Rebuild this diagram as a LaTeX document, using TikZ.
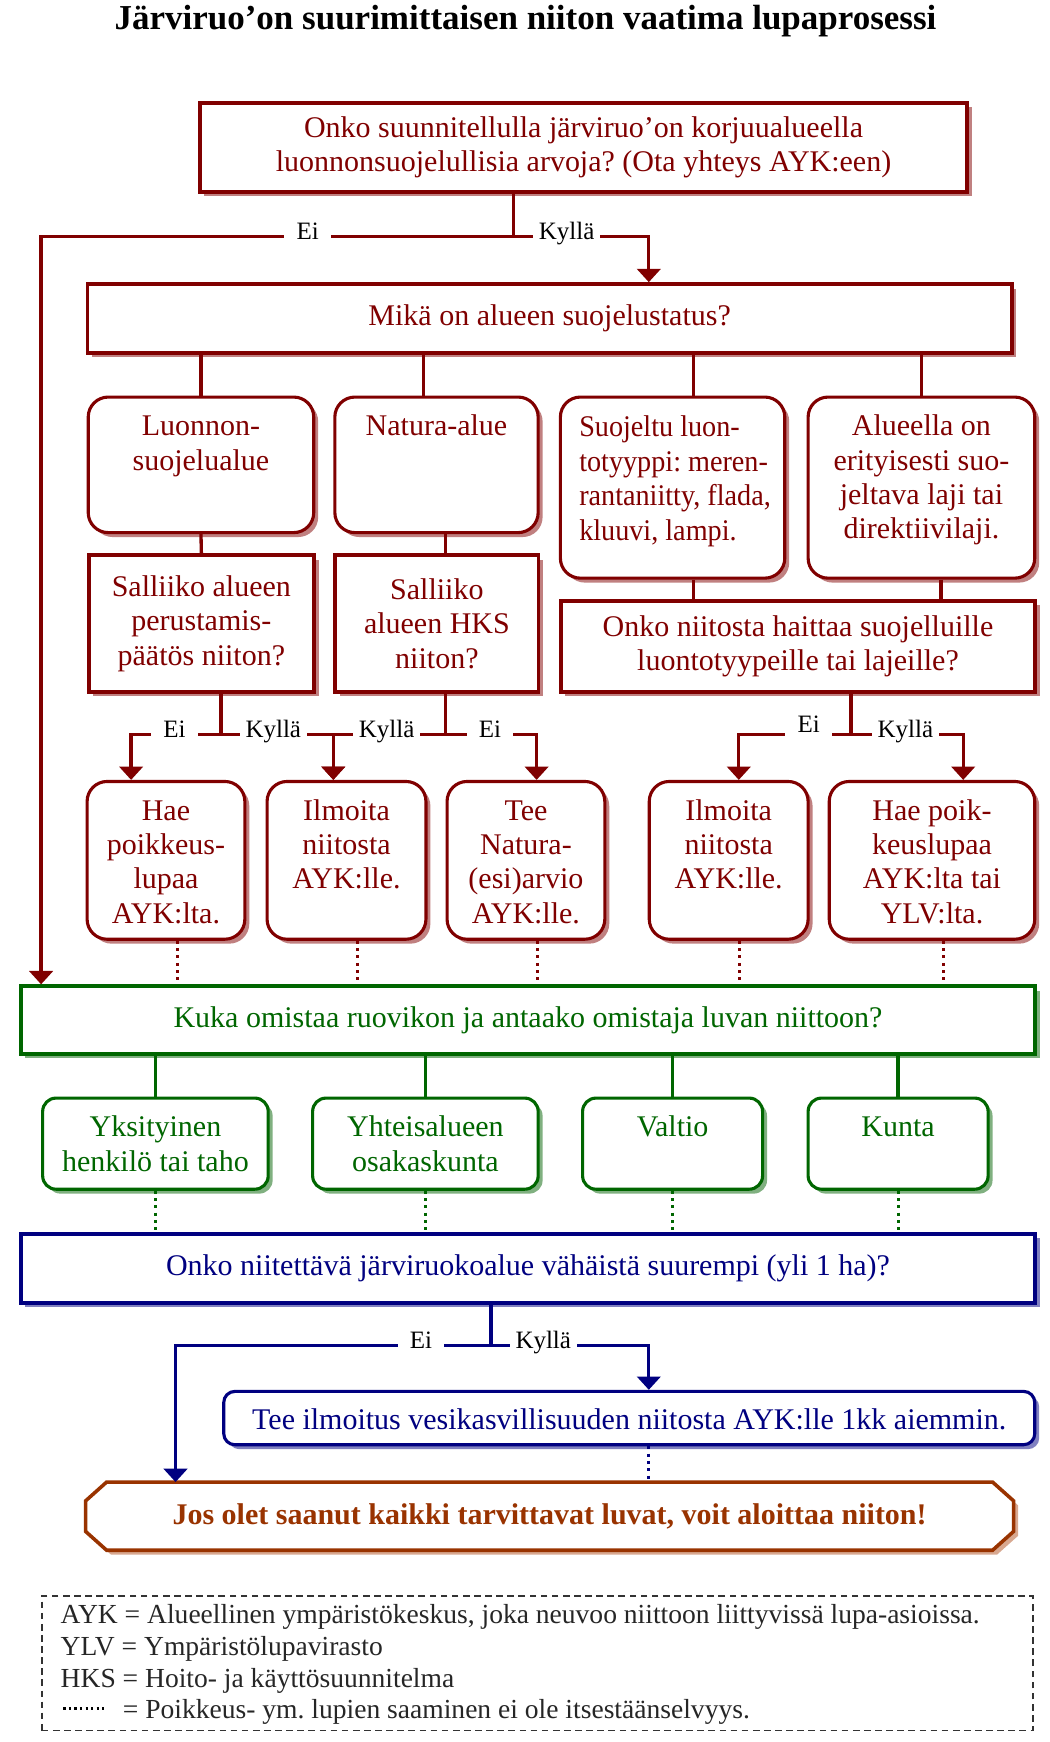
\documentclass[tikz,border=0pt]{standalone}
\usepackage{fontspec}
\setmainfont{Liberation Serif}
\usetikzlibrary{arrows.meta,shadows,backgrounds}
\frenchspacing

\definecolor{viini}{HTML}{800000}
\definecolor{viinivarjo}{HTML}{C08080}
\definecolor{metsa}{HTML}{006600}
\definecolor{metsavarjo}{HTML}{80B080}
\definecolor{laivasto}{HTML}{000080}
\definecolor{laivastovarjo}{HTML}{8080C0}
\definecolor{ruoste}{HTML}{993300}
\definecolor{ruostevarjo}{HTML}{D8A890}

\newcommand{\laatikko}{\fontsize{27pt}{31pt}\selectfont}
\newcommand{\vastausfontti}{\fontsize{22.5pt}{26pt}\selectfont}
\newcommand{\selitefontti}{\fontsize{24.8pt}{28.5pt}\selectfont}
% teksti laatikon ylälaitaan
\newcommand{\ylos}[3]{\parbox[c][#2][t]{#1}{\centering\vspace*{13pt}\strut#3}}

\tikzset{
  varjo/.style={drop shadow={shadow xshift=4pt,shadow yshift=-4pt,opacity=1,fill=#1}},
  kysymys/.style={draw=#1,text=#1,fill=white,line width=3.5pt,align=center,
    anchor=north west,inner sep=0pt,font=\laatikko,varjo=#1varjo},
  vaihe/.style={draw=#1,text=#1,fill=white,line width=2.8pt,rounded corners=18pt,
    anchor=north west,inner sep=0pt,font=\laatikko,varjo=#1varjo},
  viiva/.style={draw=#1,line width=3pt},
  nuoli/.style={viiva=#1,-{Triangle[width=21pt,length=12pt]}},
  pisteet/.style={draw=#1,line width=2.7pt,dash pattern=on 2.7pt off 3.9pt},
  vastaus/.style={fill=white,text=black,font=\vastausfontti,inner xsep=5pt,
    inner ysep=0pt,text height=15pt,text depth=5pt,minimum width=42pt},
}

\begin{document}
\begin{tikzpicture}[x=1pt,y=-1pt]
\useasboundingbox (0,0) rectangle (945,1568);

% otsikko
\node[anchor=base,font=\fontsize{31.5pt}{36pt}\selectfont\bfseries] (otsikko) at (473,27) {Järviruo’on suurimittaisen niiton vaatima lupaprosessi};

% suojeluarvot
\node[kysymys=viini,minimum width=691pt,minimum height=80pt] (alku) at (178,91) {Onko suunnitellulla järviruo’on korjuualueella\\luonnonsuojelullisia arvoja? (Ota yhteys AYK:een)};
\node[kysymys=viini,minimum width=832pt,minimum height=62pt] (tila) at (77,254) {Mikä on alueen suojelustatus?};

\node[vaihe=viini] (luonto) at (78,356) {\ylos{203pt}{122pt}{Luonnon-\\suojelualue}};
\node[vaihe=viini] (natura) at (300,356) {\ylos{183pt}{122pt}{Natura-alue}};
\node[vaihe=viini] (tyyppi) at (503,356) {\parbox[c][163pt][t]{202pt}{\addfontfeature{FakeStretch=0.94}\raggedright\leftskip=17pt\rightskip=-12pt plus 1fil\vspace*{14pt}\strut Suojeltu luon-\\totyyppi: meren-\\rantaniitty, flada,\\kluuvi, lampi.}};
\node[vaihe=viini] (laji) at (726,356) {\ylos{204pt}{163pt}{Alueella on\\erityisesti suo-\\jeltava laji tai\\direktiivilaji.}};

\node[kysymys=viini,minimum width=203pt,minimum height=123pt] (perust) at (78,498) {Salliiko alueen\\perustamis-\\päätös niiton?};
\node[kysymys=viini,minimum width=183pt,minimum height=123pt] (hks) at (300,498) {Salliiko\\alueen HKS\\niiton?};
\node[kysymys=viini,minimum width=427pt,minimum height=82pt] (haitta) at (503,539) {Onko niitosta haittaa suojelluille\\luontotyypeille tai lajeille?};

\node[vaihe=viini] (hae1) at (77,702) {\ylos{142pt}{142pt}{Hae\\poikkeus-\\lupaa\\AYK:lta.}};
\node[vaihe=viini] (ilm1) at (239,702) {\ylos{143pt}{142pt}{Ilmoita\\niitosta\\AYK:lle.}};
\node[vaihe=viini] (arvio) at (401,702) {\ylos{142pt}{142pt}{Tee\\Natura-\\(esi)arvio\\AYK:lle.}};
\node[vaihe=viini] (ilm2) at (583,702) {\ylos{143pt}{142pt}{Ilmoita\\niitosta\\AYK:lle.}};
\node[vaihe=viini] (hae2) at (745,702) {\ylos{185pt}{142pt}{Hae poik-\\keuslupaa\\AYK:lta tai\\YLV:lta.}};

% omistajat
\node[kysymys=metsa,minimum width=913pt,minimum height=61pt] (kuka) at (17,886) {Kuka omistaa ruovikon ja antaako omistaja luvan niittoon?};
\node[vaihe=metsa,rounded corners=12pt] (yks) at (37,987) {\ylos{203pt}{82pt}{Yksityinen\\henkilö tai taho}};
\node[vaihe=metsa,rounded corners=12pt] (yht) at (280,987) {\ylos{203pt}{82pt}{Yhteisalueen\\osakaskunta}};
\node[vaihe=metsa,rounded corners=12pt] (valtio) at (523,987) {\ylos{162pt}{82pt}{Valtio}};
\node[vaihe=metsa,rounded corners=12pt] (kunta) at (726,987) {\ylos{162pt}{82pt}{Kunta}};

% pinta-ala
\node[kysymys=laivasto,minimum width=913pt,minimum height=62pt] (ala) at (17,1109) {Onko niitettävä järviruokoalue vähäistä suurempi (yli 1 ha)?};
\node[vaihe=laivasto,rounded corners=10pt] (ilmoitus) at (200,1251) {\ylos{730pt}{48pt}{Tee ilmoitus vesikasvillisuuden niitosta AYK:lle 1kk aiemmin.}};

\node[anchor=north west,inner sep=0pt,minimum width=835pt,minimum height=61pt,text=ruoste,font=\laatikko\bfseries] (loppu) at (77,1334) {Jos olet saanut kaikki tarvittavat luvat, voit aloittaa niiton!};
\begin{pgfonlayer}{background}
\draw[ruoste,line width=3.2pt,fill=white,varjo=ruostevarjo] ([xshift=19pt]loppu.north west) -- ([xshift=-19pt]loppu.north east) -- ([yshift=-17pt]loppu.north east) -- ([yshift=17pt]loppu.south east) -- ([xshift=-19pt]loppu.south east) -- ([xshift=19pt]loppu.south west) -- ([yshift=17pt]loppu.south west) -- ([yshift=-17pt]loppu.north west) -- cycle;
\end{pgfonlayer}

% selitteet
\node[draw=black!80,line width=1.3pt,dash pattern=on 6pt off 4pt,anchor=north west,inner sep=0pt,font=\selitefontti,text=black!85] (selite) at (37,1436) {\parbox[c][121pt][t]{892pt}{\raggedright\leftskip=17pt\vspace*{5pt}\strut AYK = Alueellinen ympäristökeskus, joka neuvoo niittoon liittyvissä lupa-asioissa.\\YLV = Ympäristölupavirasto\\HKS = Hoito- ja käyttösuunnitelma\\\hspace*{56pt}= Poikkeus- ym. lupien saaminen ei ole itsestäänselvyys.}};
\draw[black,line width=2.6pt,dash pattern=on 2pt off 3pt] (selite.south west) ++(20,-20.5) -- ++(39,0);

% haarat ylhäällä
\coordinate (haara1) at (462,213);
\coordinate (ei1) at (37,213);
\coordinate (kylla1) at (584,213);
\draw[viiva=viini] (alku.south -| haara1) -- (haara1);
\draw[nuoli=viini] (haara1) -- (ei1) -- (ei1 |- kuka.north);
\draw[nuoli=viini] (haara1) -- (kylla1) -- (kylla1 |- tila.north);

% suojelustatus
\coordinate (x1) at (381,0);
\coordinate (x2) at (401,0);
\coordinate (x3) at (624,0);
\coordinate (x4) at (847,0);
\draw[viiva=viini] (tila.south -| luonto.north) -- (luonto.north);
\draw[viiva=viini] (tila.south -| x1) -- (natura.north -| x1);
\draw[viiva=viini] (tila.south -| x3) -- (tyyppi.north -| x3);
\draw[viiva=viini] (tila.south -| laji.north) -- (laji.north);
\draw[viiva=viini] (luonto.south) -- (perust.north);
\draw[viiva=viini] (natura.south -| x2) -- (hks.north -| x2);
\draw[viiva=viini] (tyyppi.south -| x3) -- (haitta.north -| x3);
\draw[viiva=viini] (laji.south -| x4) -- (haitta.north -| x4);

% kyllä/ei -puut
\coordinate (j2) at (199,661);
\coordinate (j3) at (401,661);
\coordinate (j4) at (766,661);
\coordinate (a1) at (118,661);
\coordinate (a2) at (300,661);
\coordinate (a3) at (483,661);
\coordinate (a4) at (665,661);
\coordinate (a5) at (867,661);
\draw[viiva=viini] (perust.south -| j2) -- (j2);
\draw[viiva=viini] (hks.south -| j3) -- (j3);
\draw[viiva=viini] (haitta.south -| j4) -- (j4);
\draw[nuoli=viini] (j2) -- (a1) -- (hae1.north -| a1);
\draw[nuoli=viini] (j2) -- (a2) -- (ilm1.north -| a2);
\draw[nuoli=viini] (j3) -- (a2) -- (ilm1.north -| a2);
\draw[nuoli=viini] (j3) -- (a3) -- (arvio.north -| a3);
\draw[nuoli=viini] (j4) -- (a4) -- (ilm2.north -| a4);
\draw[nuoli=viini] (j4) -- (a5) -- (hae2.north -| a5);

\foreach \n in {hae1,ilm1,arvio,ilm2,hae2}{
  \path (\n.south) ++(10,0) coordinate (p\n);
  \draw[pisteet=viini] (p\n) -- (p\n |- kuka.north);
}

\foreach \n in {yks,yht,valtio,kunta}{
  \draw[viiva=metsa] (kuka.south -| \n.north) -- (\n.north);
  \draw[pisteet=metsa] (\n.south) -- (\n.south |- ala.north);
}

% alaosa
\coordinate (haara3) at (442,1211);
\coordinate (ei3) at (158,1211);
\coordinate (kylla3) at (584,1211);
\draw[viiva=laivasto] (ala.south -| haara3) -- (haara3);
\draw[nuoli=laivasto] (haara3) -- (ei3) -- (ei3 |- loppu.north);
\draw[nuoli=laivasto] (haara3) -- (kylla3) -- (kylla3 |- ilmoitus.north);
\draw[pisteet=laivasto] (ilmoitus.south -| kylla3) -- (loppu.north -| kylla3);

% vastaukset
\node[vastaus] (v1) at (277,211) {Ei};
\node[vastaus] (v2) at (510,211) {Kyllä};
\node[vastaus] (v3) at (157,659) {Ei};
\node[vastaus] (v4) at (246,659) {Kyllä};
\node[vastaus] (v5) at (348,659) {Kyllä};
\node[vastaus] (v6) at (441,659) {Ei};
\node[vastaus] (v7) at (728,654) {Ei};
\node[vastaus] (v8) at (815,659) {Kyllä};
\node[vastaus] (v9) at (379,1209) {Ei};
\node[vastaus] (v10) at (489,1209) {Kyllä};
\end{tikzpicture}
\end{document}
